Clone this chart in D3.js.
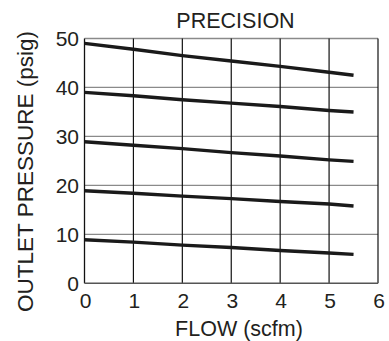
<!DOCTYPE html>
<html><head><meta charset="utf-8">
<script src="https://cdn.jsdelivr.net/npm/d3@7"></script>
<style>
html,body{margin:0;padding:0;background:#fff;}
text{font-family:"Liberation Sans",Arial,sans-serif;fill:#231f20;}
</style></head>
<body>
<svg id="chart" width="389" height="341"></svg>
<script>
const flow = [0, 1, 2, 3, 4, 5, 5.5];
const series1 = [49.0, 47.8, 46.5, 45.4, 44.3, 43.1, 42.5];
const series2 = [39.0, 38.3, 37.5, 36.8, 36.1, 35.3, 35.0];
const series3 = [28.9, 28.2, 27.5, 26.7, 26.0, 25.2, 24.9];
const series4 = [18.9, 18.4, 17.8, 17.3, 16.7, 16.2, 15.8];
const series5 = [8.9, 8.4, 7.8, 7.3, 6.7, 6.2, 5.9];
const xTicks = [0, 1, 2, 3, 4, 5, 6];
const yTicks = [0, 10, 20, 30, 40, 50];
const title = "PRECISION";
const xTitle = "FLOW (scfm)";
const yTitle = "OUTLET PRESSURE (psig)";

const svg = d3.select("#chart");
const x = d3.scaleLinear().domain([0, 6]).range([84.5, 378]);
const y = d3.scaleLinear().domain([0, 50]).range([283.3, 38.5]);
const fs = 21;

// horizontal gray grid
svg.append("g").selectAll("line").data(yTicks.filter(d => d > 0)).join("line")
  .attr("x1", x(0)).attr("x2", x(6))
  .attr("y1", d => y(d)).attr("y2", d => y(d))
  .attr("stroke", "#8a8a8a").attr("stroke-width", 1.3);

// vertical black grid
svg.append("g").selectAll("line").data(xTicks.filter(d => d > 0)).join("line")
  .attr("x1", d => x(d)).attr("x2", d => x(d))
  .attr("y1", y(0)).attr("y2", y(50))
  .attr("stroke", "#111").attr("stroke-width", 1.2);

// axes lines
svg.append("line").attr("x1", x(0)).attr("x2", x(0)).attr("y1", y(0)).attr("y2", y(50))
  .attr("stroke", "#111").attr("stroke-width", 1.3);
svg.append("line").attr("x1", x(0)).attr("x2", x(6)).attr("y1", y(0)).attr("y2", y(0))
  .attr("stroke", "#555").attr("stroke-width", 1.5);

// data lines
const line = d3.line().x((d, i) => x(flow[i])).y(d => y(d));
[series1, series2, series3, series4, series5].forEach(s => {
  svg.append("path").datum(s).attr("d", line)
    .attr("fill", "none").attr("stroke", "#1a1a1a").attr("stroke-width", 3.4);
});

// tick labels
svg.append("g").selectAll("text").data(yTicks).join("text")
  .attr("x", 79).attr("y", d => y(d) + 7.5)
  .attr("text-anchor", "end").attr("font-size", fs).text(d => d);
svg.append("g").selectAll("text").data(xTicks).join("text")
  .attr("x", d => x(d) + 1).attr("y", 307.5)
  .attr("text-anchor", "middle").attr("font-size", fs).text(d => d);

// titles
svg.append("text").attr("x", 235.5).attr("y", 28.3).attr("text-anchor", "middle")
  .attr("font-size", 21.5).text(title);
svg.append("text").attr("x", 239).attr("y", 336).attr("text-anchor", "middle")
  .attr("font-size", 21.5).text(xTitle);
svg.append("text").attr("transform", "translate(32.5,171.5) rotate(-90)")
  .attr("text-anchor", "middle").attr("font-size", 22.5).text(yTitle);
</script>
</body></html>
